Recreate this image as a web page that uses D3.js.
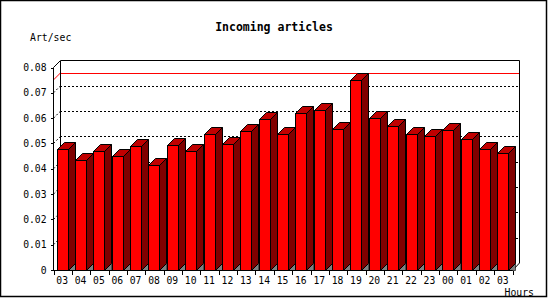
<!DOCTYPE html>
<html>
<head>
<script src="https://d3js.org/d3.v7.min.js"></script>
<style>
  body { margin: 0; background: #fff; }
  text { font-family: "DejaVu Sans Mono", monospace; fill: #000; }
  line { shape-rendering: crispEdges; }
</style>
</head>
<body>
<div id="chart"></div>
<script>
// hours of the day, oldest first
var hours = ["03","04","05","06","07","08","09","10","11","12","13","14","15",
             "16","17","18","19","20","21","22","23","00","01","02","03"];
// articles per second for each hour
var rates = [0.0479, 0.0433, 0.0472, 0.0449, 0.0489, 0.0413, 0.0492, 0.0469, 0.0538,
             0.0499, 0.0551, 0.0597, 0.0538, 0.0621, 0.0633, 0.0558, 0.0751, 0.0601,
             0.0567, 0.0538, 0.0528, 0.0554, 0.0518, 0.0479, 0.0462];
var yTicks = [0, 0.01, 0.02, 0.03, 0.04, 0.05, 0.06, 0.07, 0.08];

var W = 550, H = 300;
var pLeft = 53, pRight = 512, pBottom = 270, pTop = 67.5;
var dx = 7, dy = 7; // depth of the 3d box

var svg = d3.select("#chart").append("svg")
    .attr("width", W).attr("height", H);

var x = d3.scaleBand().domain(d3.range(hours.length)).range([pLeft, pRight]);
var xEdge = d3.scaleLinear().domain([0, hours.length]).range([pLeft, pRight]);
var y = d3.scaleLinear().domain([0, 0.08]).range([pBottom, pTop]);

// frame
svg.append("rect")
    .attr("x", 0.5).attr("y", 0.5).attr("width", 546).attr("height", 296)
    .attr("fill", "#fff").attr("stroke", "#000").attr("stroke-width", 1.5);

// title and axis names
svg.append("text")
    .attr("x", 274).attr("y", 31)
    .attr("text-anchor", "middle")
    .style("font-size", "11.5px").style("font-weight", "bold")
    .text("Incoming articles");
svg.append("text")
    .attr("x", 30).attr("y", 41)
    .style("font-size", "9.8px")
    .text("Art/sec");
svg.append("text")
    .attr("x", 534).attr("y", 295.5)
    .attr("text-anchor", "end")
    .style("font-size", "9.8px")
    .text("Hours");

var g = svg.append("g");

// grid lines on back wall and side wall
var grid = yTicks.filter(d => d > 0 && d < 0.08);
g.selectAll(".grid").data(grid).enter().append("line")
    .attr("x1", pLeft + dx).attr("x2", pRight + dx)
    .attr("y1", d => Math.round(y(d) - dy) + 0.5).attr("y2", d => Math.round(y(d) - dy) + 0.5)
    .attr("stroke", "#000").attr("stroke-dasharray", "2,2");
g.selectAll(".sgrid").data(grid).enter().append("line")
    .attr("x1", pLeft + 0.5).attr("x2", pLeft + dx + 0.5)
    .attr("y1", d => y(d)).attr("y2", d => y(d) - dy)
    .attr("stroke", "#000").attr("stroke-dasharray", "2,2")
    .style("shape-rendering", "auto");

// max line
var maxV = d3.max(rates);
g.append("line")
    .attr("x1", pLeft + dx).attr("x2", pRight + dx)
    .attr("y1", Math.round(y(maxV) - dy) + 0.5).attr("y2", Math.round(y(maxV) - dy) + 0.5)
    .attr("stroke", "#ff0000");
g.append("line")
    .attr("x1", pLeft + 0.5).attr("x2", pLeft + dx + 0.5)
    .attr("y1", y(maxV)).attr("y2", y(maxV) - dy)
    .attr("stroke", "#ff0000")
    .style("shape-rendering", "auto");

// box outline
g.append("path")
    .attr("d", "M" + (pLeft + 0.5) + "," + pTop + "L" + (pLeft + dx + 0.5) + "," + (pTop - dy)
        + "H" + (pRight + dx + 0.5) + "V" + (pBottom - dy) + "L" + (pRight + 0.5) + "," + (pBottom + 0.5))
    .attr("fill", "none").attr("stroke", "#000");
g.append("line")
    .attr("x1", pLeft + dx + 0.5).attr("x2", pLeft + dx + 0.5)
    .attr("y1", pTop - dy).attr("y2", pBottom - dy)
    .attr("stroke", "#000");

// bars
var bw = 11;
var bars = g.selectAll(".bar").data(rates).enter().append("g");
bars.each(function(d, i) {
    var c = x(i) + x.bandwidth() / 2;
    var x0 = Math.round(c - 5.5) + 0.5, x1 = x0 + bw;
    var yt = Math.round(y(d)) + 0.5, yb = pBottom + 0.5;
    var b = d3.select(this);
    b.append("path")
        .attr("d", "M" + x1 + "," + yb + "L" + (x1 + dx) + "," + (yb - dy) + "V" + yb + "Z")
        .attr("fill", "#808080").attr("stroke", "#000").attr("stroke-width", 0.6);
    b.append("path")
        .attr("d", "M" + x1 + "," + yt + "L" + (x1 + dx) + "," + (yt - dy) + "V" + (yb - dy) + "L" + x1 + "," + yb + "Z")
        .attr("fill", "#800000").attr("stroke", "#000");
    b.append("path")
        .attr("d", "M" + x0 + "," + yt + "L" + (x0 + dx) + "," + (yt - dy) + "H" + (x1 + dx) + "L" + x1 + "," + yt + "Z")
        .attr("fill", "#c00000").attr("stroke", "#000");
    b.append("rect")
        .attr("x", x0).attr("y", yt).attr("width", bw).attr("height", yb - yt)
        .attr("fill", "#ff0000").attr("stroke", "#000");
});

// y axis
var yAxis = svg.append("g")
    .attr("transform", "translate(" + (pLeft + 0.5) + ",0)")
    .call(d3.axisLeft(y).tickValues(yTicks).tickSize(3).tickPadding(4)
        .tickFormat(d => d === 0 ? "0" : d3.format(".2f")(d)));
yAxis.selectAll("text").style("font-size", "9.7px").style("font-family", '"DejaVu Sans Mono", monospace');
yAxis.select(".domain").attr("d", "M0," + pTop + "V" + (pBottom + 0.5));

// x axis
var xAxis = svg.append("g")
    .attr("transform", "translate(0," + (pBottom + 0.5) + ")")
    .call(d3.axisBottom(xEdge).tickValues(d3.range(hours.length + 1)).tickSize(4).tickFormat(""));
xAxis.select(".domain").attr("d", "M" + (pLeft + 0.5) + ",0H" + (pRight + 0.5));
xAxis.selectAll(".tick line").attr("transform", "translate(0.5,0)");
var xLab = svg.append("g")
    .attr("transform", "translate(0," + (pBottom + 0.5) + ")")
    .call(d3.axisBottom(x).tickSize(0).tickPadding(7).tickFormat(i => hours[i]));
xLab.select(".domain").remove();
xLab.selectAll("text").style("font-size", "9.7px").style("font-family", '"DejaVu Sans Mono", monospace');
</script>
</body>
</html>
